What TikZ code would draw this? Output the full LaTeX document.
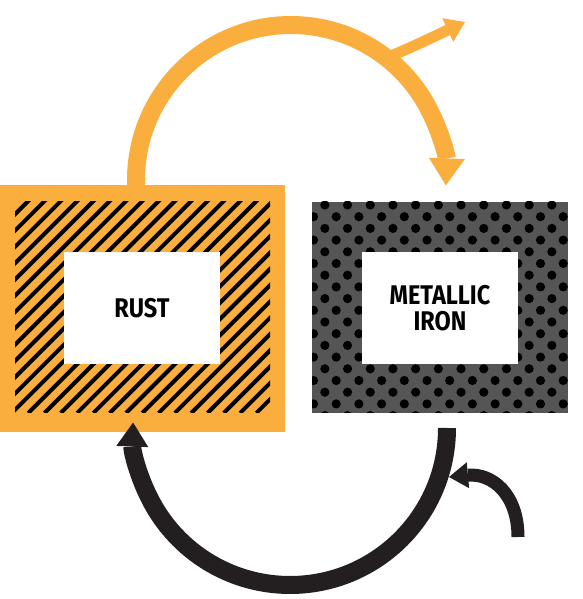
\documentclass[tikz,border=0pt]{standalone}
\usepackage{fontspec}
\setsansfont{Fira Sans}[FakeStretch=0.87]
\usetikzlibrary{arrows.meta}
\definecolor{rustorange}{HTML}{F9AE3E}
\definecolor{irongray}{HTML}{555555}
\definecolor{cycleblack}{HTML}{231F20}

\begin{document}
\begin{tikzpicture}[x=1pt,y=1pt,
  namebox/.style={fill=white,inner sep=0pt,minimum width=156pt,minimum height=112pt,
    align=center,font=\sffamily\bfseries\fontsize{27}{26}\selectfont},
  bigtip/.style={-{Triangle[width=36pt,length=27pt,line width=0pt]}},
  smalltip/.style={-{Triangle[width=26pt,length=19pt,line width=0pt]}}]
  \useasboundingbox (0,0) rectangle (582,599);
  % rust: orange frame with hatching
  \fill[rustorange] (0,167) rectangle (285,414);
  \begin{scope}
    \clip (15,186) rectangle (270,397);
    \foreach \k in {0,...,30}
      \draw[line width=4pt] (-200+\k*16.3,186) -- ++(215,215);
  \end{scope}
  % iron: grey plate with dots
  \fill[irongray] (312,186) rectangle (568,397);
  \begin{scope}
    \clip (312,186) rectangle (568,397);
    \foreach \r in {0,...,18}
      \foreach \c in {-1,...,12}
        \fill ({313.5+\c*22.7+(1-mod(\r,2))*11.35},{394-\r*11.7}) circle (4.6);
  \end{scope}
  \node[namebox] (rust) at (142,291) {RUST};
  \node[namebox] (iron) at (440,291) {METALLIC\\IRON};
  % cycle arrows
  \coordinate (rustout) at (136,414);
  \coordinate (ironout) at (447,171);
  \coordinate (leak) at (386,541);
  \coordinate (leaktip) at (465,577);
  \coordinate (feed) at (518,62);
  \coordinate (feedtip) at (449,122);
  \draw[rustorange,line width=18pt,bigtip] (rustout) -- ++(0,5)
    arc[start angle=180,end angle=-2,radius=155];
  \draw[rustorange,line width=11pt,smalltip] (leak) .. controls (415,553) and (435,563) .. (leaktip);
  \draw[cycleblack,line width=13pt,smalltip] (feed) .. controls (518,105) and (492,126) .. (feedtip);
  \draw[cycleblack,line width=18pt,-{Triangle[width=32pt,length=24pt,line width=0pt]}] (ironout)
    arc[start angle=0,end angle=-182,radius=157];
\end{tikzpicture}
\end{document}
